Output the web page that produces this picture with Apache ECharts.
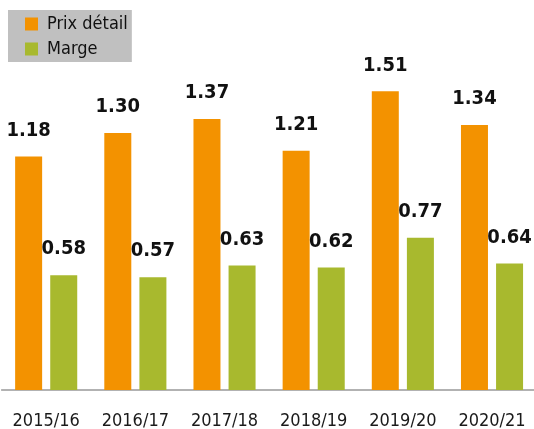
<!DOCTYPE html>
<html>
<head>
<meta charset="utf-8">
<script src="https://cdn.jsdelivr.net/npm/echarts@6/dist/echarts.min.js"></script>
<style>
  html, body { margin: 0; padding: 0; background: #fff; }
  #chart { width: 534px; height: 429px; }
</style>
</head>
<body>
<div id="chart"></div>
<script>
// data
const categories = ["2015/16", "2016/17", "2017/18", "2018/19", "2019/20", "2020/21"];
const prixDetail = [1.18, 1.30, 1.37, 1.21, 1.51, 1.34];
const marge = [0.58, 0.57, 0.63, 0.62, 0.77, 0.64];

const font = "'Liberation Sans Narrow', 'DejaVu Sans Condensed', sans-serif";

const chart = echarts.init(document.getElementById("chart"));

const valueLabel = {
  show: true,
  position: "top",
  distance: 16,
  fontFamily: font,
  fontWeight: "bold",
  fontSize: 20,
  color: "#111",
  formatter: (p) => p.value.toFixed(2),
};

chart.setOption({
  animation: false,
  legend: {
    orient: "vertical",
    left: 8,
    top: 10,
    padding: [3, 4, 2, 17],
    backgroundColor: "#c0c0c0",
    itemWidth: 13,
    itemHeight: 13,
    itemGap: 3,
    icon: "rect",
    textStyle: {
      fontFamily: font,
      fontSize: 18,
      color: "#111",
      lineHeight: 22,
      padding: [0, 0, 0, 4],
    },
    data: ["Prix détail", "Marge"],
  },
  grid: {
    left: 1.6,
    width: 535,
    top: 34,
    bottom: 39,
    outerBoundsMode: "none",
  },
  xAxis: {
    type: "category",
    data: categories,
    axisTick: { show: false },
    axisLine: { lineStyle: { color: "#999", width: 1.5 } },
    axisLabel: {
      interval: 0,
      margin: 22,
      fontFamily: font,
      fontSize: 18,
      color: "#1a1a1a",
    },
  },
  yAxis: {
    type: "value",
    min: 0,
    max: 1.8,
    show: false,
    splitLine: { show: false },
  },
  series: [
    {
      name: "Prix détail",
      type: "bar",
      data: prixDetail,
      barWidth: 27,
      barGap: "30%",
      itemStyle: { color: "#F39200" },
      label: valueLabel,
    },
    {
      name: "Marge",
      type: "bar",
      data: marge,
      barWidth: 27,
      itemStyle: { color: "#A8B92E" },
      label: valueLabel,
    },
  ],
});
</script>
</body>
</html>
